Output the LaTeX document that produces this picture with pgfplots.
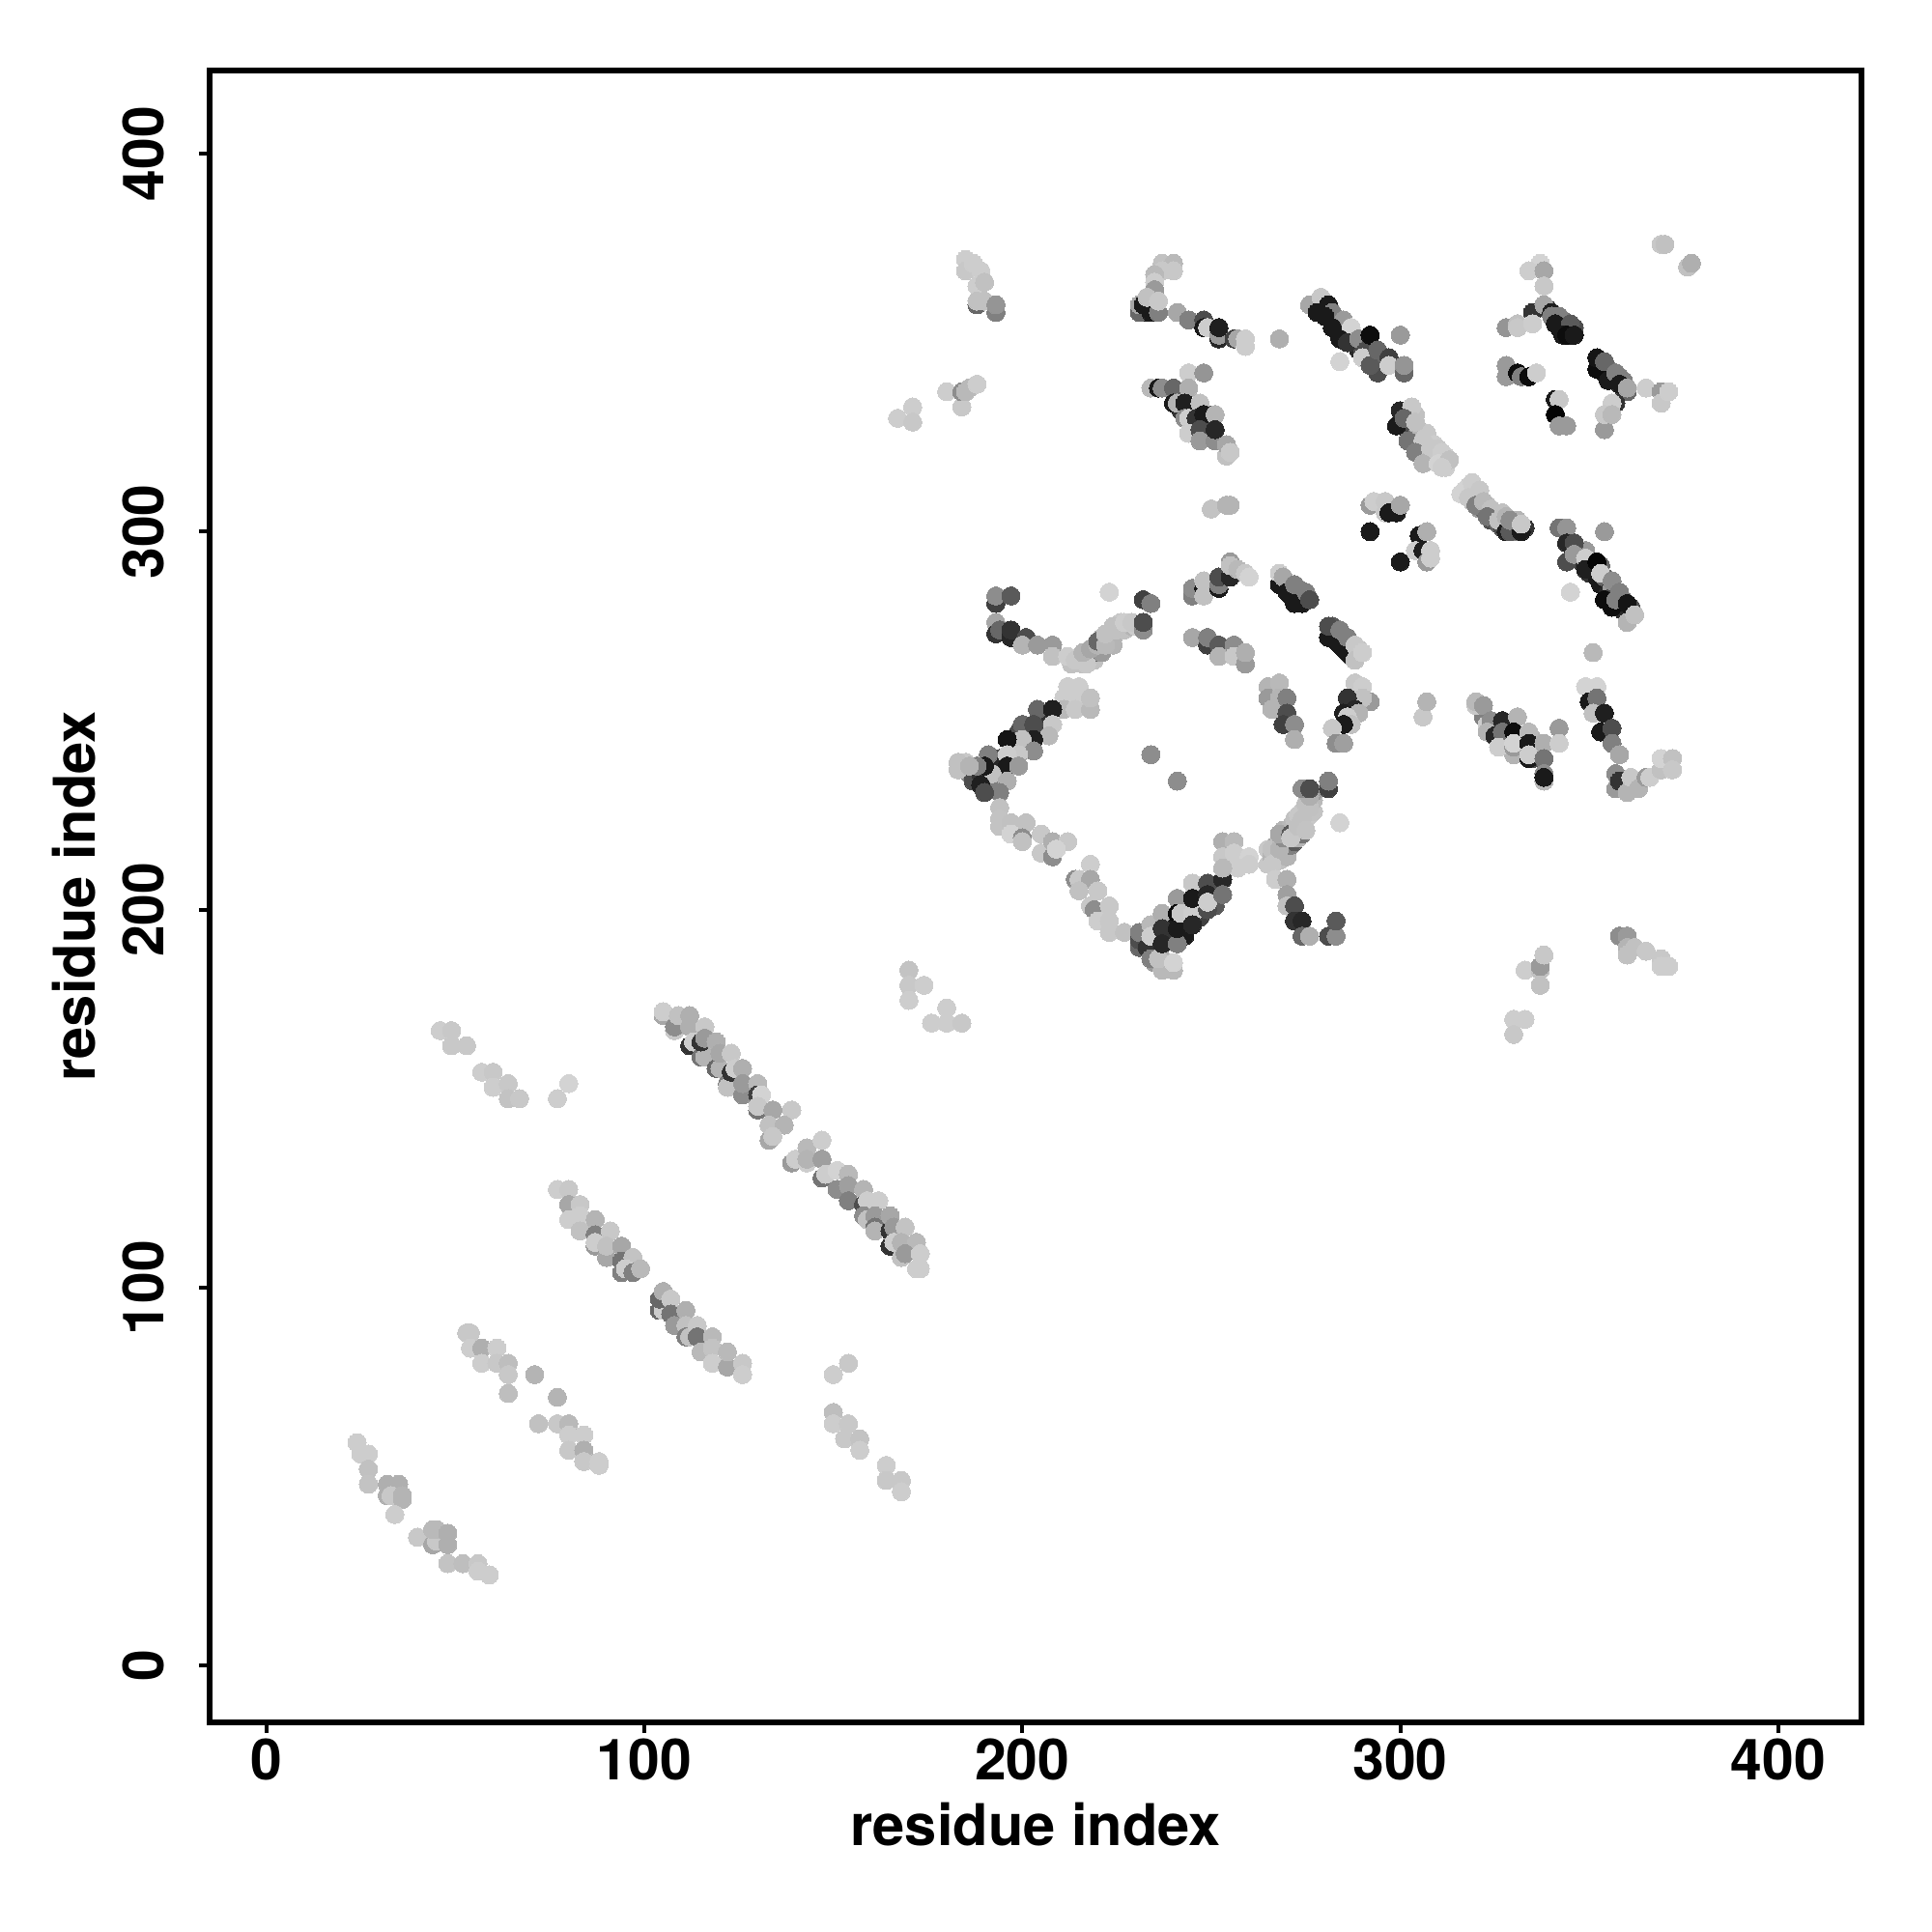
\documentclass[border=0pt]{standalone}
\usepackage{pgfplots}
\pgfplotsset{compat=1.18}
\usepackage{fontspec}
\setmainfont{TeX Gyre Heros}
\begin{document}
\begin{tikzpicture}[x=1pt,y=1pt]
\useasboundingbox (-54.25pt,-54.25pt) rectangle (445.75pt,445.75pt);
\begin{axis}[at={(0pt,0pt)},anchor=south west,scale only axis,width=427.5pt,height=427.5pt,
 xmin=-15,xmax=422,ymin=-15,ymax=422,axis line style={line width=1.5pt},
 xtick={0,100,200,300,400},ytick={0,100,200,300,400},
 tick align=outside,tick pos=lower,major tick length=2.8pt,tick style={line width=1pt,black},
 ticklabel style={font=\fontsize{14.7}{16}\selectfont\bfseries},
 /pgf/number format/assume math mode=true,
 y tick label style={rotate=90,anchor=south},
 yticklabel shift=5.4pt,xticklabel shift=-2.2pt,
 xlabel={residue index},ylabel={residue index},
 label style={font=\fontsize{14.9}{16}\selectfont\bfseries},
 xlabel style={at={(axis description cs:0.5,0)},anchor=center,yshift=-26.5pt},
 ylabel style={at={(axis description cs:0,0.5)},anchor=center,xshift=0pt,yshift=35.1pt},
 colormap={g}{gray(0cm)=(0); gray(1cm)=(1)},point meta min=0,point meta max=1,clip=false]
\addplot[scatter,only marks,mark=*,mark size=2.35pt,point meta=explicit,
 scatter/use mapped color={draw=mapped color,fill=mapped color},line width=0pt] coordinates {
(278,360)[.3](280,359)[.15](282,356)[.15](283,356)[.3](284,354)[.2](285,353)[.1](286,352)[.15](287,351)[.3](288,350)[.2](289,348)[.15](290,348)[.3](291,346)[.3](293,346)[.3](293,344)[.2](295,345)[.4](294,342)[.3]
(347,295)[.3](348,292)[.2](349,295)[.6](350,289)[.2](351,291)[.5](352,288)[.1](353,291)[.4](353,286)[.1](354,288)[.4](355,284)[.15](356,285)[.6](357,284)[.3](358,281)[.1](359,282)[.5](361,280)[.3](359,279)[.15]
(199,247)[.3](201,247)[.15](202,244)[.2](198,243)[.1](197,243)[.15](205,251)[.3](206,250)[.2](205,247)[.2](194,240)[.3](193,238)[.15](192,236)[.12](191,234)[.15](188,236)[.4](186,236)[.5](185,237)[.6](187,234)[.3](189,236)[.2](192,232)[.4](193,234)[.5]
(239,193)[.2](239,197)[.1](243,197)[.05](243,193)[.1](243,201)[.1](247,201)[.2](247,198)[.25](247,205)[.3](251,203)[.2](251,206)[.3](251,201)[.35](235,190)[.2](236,193)[.3](233,193)[.4](235,186)[.6](237,187)[.65](238,186)[.7](231,190)[.4]
(213,265)[.75](215,267)[.6](216,265)[.75](218,267)[.5](219,267)[.7](219,266)[.75](220,268)[.4](221,268)[.6](221,272)[.7](223,271)[.5](223,273)[.6](224,272)[.72](226,274)[.7](227,274)[.75](228,275)[.75](229,275)[.7](230,275)[.8](226,276)[.78](224,270)[.7]
(265,212)[.78](265,216)[.78](266,214)[.7](267,214)[.7](267,217)[.65](268,213)[.75](268,218)[.75](269,216)[.5](269,221)[.7](270,218)[.4](270,214)[.7](271,217)[.5](271,222)[.72](272,218)[.35](272,220)[.6](272,224)[.75](273,219)[.7](273,225)[.78](274,220)[.45](274,226)[.78](275,224)[.78](275,228)[.75](276,225)[.78](277,226)[.76](277,229)[.72](277,231)[.6]
(300,329)[.3](301,328)[.2](302,331)[.5](302,327)[.1](303,329)[.6](303,326)[.3](304,325)[.45](304,331)[.75](305,327)[.7](305,323)[.4](306,321)[.6](307,326)[.78](307,323)[.7](307,320)[.7](309,320)[.8](309,323)[.8](310,322)[.78](312,320)[.8](312,317)[.8]
(316,310)[.82](318,312)[.8](320,311)[.8](319,308)[.75](321,306)[.6](321,309)[.75](322,306)[.4](323,307)[.75](324,303)[.3](325,305)[.65](326,302)[.4](327,305)[.75](327,301)[.3](328,302)[.45](330,300)[.15](331,300)[.5](331,303)[.7](333,301)[.2]
(353,344)[.1](354,342)[.1](355,343)[.45](356,341)[.1](356,342)[.5](357,340)[.15](358,341)[.5](359,338)[.2](359,340)[.5](360,337)[.4]
(339,359)[.2](341,357)[.4](342,354)[.1](344,355)[.4](345,352)[.12](343,356)[.45](346,354)[.3]
(269,286)[.1](270,286)[.4](271,283)[.1](271,286)[.5](273,283)[.1](273,285)[.5](274,283)[.3](275,282)[.1]
(282,273)[.1](283,272)[.4](283,271)[.1](285,272)[.4](285,269)[.1](287,267)[.1](287,270)[.5](282,275)[.35](287,268)[.4](289,269)[.75]
(324,248)[.3](326,249)[.2](328,249)[.15](329,248)[.1](328,246)[.05](329,245)[.3](331,245)[.15](332,246)[.5](332,243)[.1](333,242)[.1](335,240)[.3](336,242)[.5](335,245)[.7](322,251)[.5](326,246)[.45](330,241)[.7]
(245,328)[.15](246,326)[.4](249,329)[.1](249,326)[.2](249,331)[.3](248,325)[.4](242,332)[.2](245,332)[.12]
(232,358)[.25](233,358)[.1](233,360)[.15](234,360)[.5](235,360)[.1]
(24,59)[.8](25,56)[.8](27,56)[.8](27,52)[.75](27,48)[.76](32,48)[.68](35,48)[.68](32,45)[.68](33,45)[.78](36,44)[.7](36,45)[.7](34,40)[.8]
(40,34)[.78](44,32)[.65](45,33)[.78](44,36)[.72](45,36)[.72](48,32)[.68](48,35)[.68](48,27)[.76](52,27)[.74](56,27)[.78](56,25)[.8](59,24)[.8]
(53,88)[.78](54,88)[.78](54,84)[.8](57,84)[.68](61,84)[.8](57,80)[.8](61,80)[.78](64,80)[.74](64,77)[.78](64,72)[.74](71,77)[.7](77,71)[.7](72,64)[.75](77,64)[.78](80,64)[.72](80,61)[.8](84,61)[.8](80,57)[.78](84,57)[.68](84,54)[.78](88,53)[.8](88,54)[.8]
(77,126)[.8](80,126)[.78](80,122)[.65](83,122)[.78](80,118)[.8](83,119)[.8](87,118)[.7](83,115)[.75](87,114)[.5](91,115)[.78](87,111)[.6](87,112)[.8](90,108)[.65](90,111)[.75](94,111)[.65](94,107)[.45](97,108)[.76](94,104)[.5](95,105)[.8](97,104)[.5](99,105)[.72]
(104,94)[.4](105,94)[.8](104,97)[.4](105,99)[.68](107,97)[.78](107,93)[.45](111,94)[.68](108,90)[.6](111,90)[.75](111,87)[.5](112,87)[.75](114,90)[.78](114,87)[.45](118,87)[.72](115,83)[.72](118,84)[.76](118,80)[.8](122,79)[.65](122,83)[.72](126,80)[.78](126,77)[.8]
(108,168)[.78](105,172)[.65](105,173)[.8](108,169)[.55](109,172)[.75](112,172)[.68](112,169)[.68](116,169)[.78](112,164)[.2](113,165)[.8](115,161)[.45](116,161)[.7](115,165)[.2](116,166)[.6](119,165)[.68](119,158)[.4](120,158)[.7](120,162)[.65](123,162)[.78](122,154)[.5](122,153)[.75](123,157)[.2](124,158)[.8](126,158)[.68](126,151)[.55](126,154)[.6](130,154)[.72](130,151)[.25](131,151)[.82](130,147)[.45](130,148)[.78](134,147)[.65](139,147)[.78](133,143)[.75](137,143)[.7](133,139)[.65](134,140)[.78]
(139,133)[.6](140,134)[.8](143,137)[.72](147,139)[.8](143,133)[.8](143,134)[.7](147,134)[.62](147,129)[.45](148,130)[.8](151,131)[.82](154,130)[.72](151,126)[.55](154,127)[.62](158,126)[.7](154,123)[.5](158,122)[.3](159,123)[.8](162,123)[.8](158,119)[.55](159,118)[.75](161,119)[.6](165,119)[.65](161,116)[.45](161,115)[.7](165,115)[.2](166,116)[.6](169,116)[.76](165,111)[.2](166,112)[.8](168,112)[.7](172,112)[.72](168,108)[.75](169,109)[.6](173,109)[.8](172,105)[.8](173,105)[.8]
(150,77)[.8](154,80)[.78](150,67)[.74](150,64)[.8](154,64)[.78](153,60)[.78](157,60)[.76](157,57)[.8](164,53)[.8](164,49)[.78](168,49)[.78](168,46)[.8]
(46,168)[.8](49,168)[.78](49,164)[.78](53,164)[.78](57,157)[.8](60,157)[.78](60,153)[.8](64,154)[.78](64,150)[.76](67,150)[.78](77,150)[.8](80,154)[.82]
(170,184)[.76](170,180)[.78](170,176)[.8](174,180)[.8](176,170)[.8](180,174)[.8](180,170)[.8](184,170)[.78]
(167,330)[.8](171,333)[.8](171,329)[.78]
(185,372)[.8](185,369)[.78](187,371)[.8](189,369)[.8](188,365)[.8](190,366)[.75](188,360)[.4](188,361)[.75](190,361)[.75](193,358)[.5](193,360)[.58]
(180,337)[.8](184,333)[.78](184,337)[.55](185,337)[.72](186,338)[.72](188,339)[.8]
(237,371)[.75](240,371)[.72](237,369)[.78](240,369)[.78](235,368)[.72](235,366)[.8](235,364)[.6](233,362)[.6](231,358)[.4](231,360)[.65](232,360)[.1](234,358)[.1](233,362)[.75](236,358)[.5](236,361)[.78]
(241,358)[.65](244,356)[.5](248,356)[.3](248,354)[.1](249,354)[.8](252,351)[.15](252,352)[.6](252,354)[.12](256,351)[.25](257,351)[.65](259,349)[.8](259,351)[.8](268,351)[.68]
(244,342)[.8](248,342)[.58](234,338)[.72](236,338)[.1](237,338)[.55](240,338)[.4](244,338)[.68](240,334)[.1](241,334)[.7](243,334)[.12](247,334)[.75](243,330)[.55](244,330)[.8](246,330)[.2](248,331)[.1](251,331)[.7](244,326)[.8](247,327)[.3](247,324)[.6](251,324)[.55](251,327)[.15](254,320)[.75](254,323)[.65](255,321)[.78]
(250,306)[.76](254,307)[.7](255,307)[.7]
(193,281)[.25](193,283)[.55](197,283)[.35](193,276)[.65](193,273)[.2](194,274)[.4](197,272)[.15](197,274)[.2](201,272)[.3](200,270)[.7](204,270)[.6](208,270)[.6](208,267)[.75]
(212,267)[.8](214,266)[.78](217,265)[.78](216,268)[.7](218,269)[.65](220,270)[.7](220,271)[.4](222,270)[.72](222,273)[.75](224,275)[.75](225,274)[.75](227,276)[.8](229,276)[.78](223,284)[.82](232,282)[.25](234,281)[.5](232,274)[.55](232,276)[.3]
(245,283)[.5](245,285)[.55](248,285)[.1](248,283)[.75](252,285)[.1](248,287)[.75](252,286)[.5](252,288)[.3](255,288)[.15](255,292)[.6](255,291)[.75](257,290)[.72](259,289)[.78](260,288)[.82]
(212,259)[.8](215,259)[.8](211,256)[.8](215,256)[.8](211,253)[.72](214,253)[.78](218,253)[.72](218,256)[.75]
(204,253)[.4](208,253)[.12](200,249)[.4](203,249)[.3](208,249)[.78](207,246)[.72](203,245)[.12](200,242)[.1](200,245)[.75](196,245)[.08](203,242)[.55](199,241)[.78](196,241)[.8](196,238)[.1](199,238)[.6](191,241)[.5](192,236)[.75](190,238)[.1](196,234)[.68](194,231)[.5](189,233)[.12](188,238)[.5](185,239)[.78](183,239)[.75](183,237)[.75](186,238)[.7](190,231)[.3](194,227)[.75]
(194,224)[.76](194,222)[.76](197,223)[.75](201,223)[.75](197,220)[.82](200,219)[.55](200,218)[.75](205,220)[.78](205,215)[.78](208,218)[.68](212,218)[.78](208,214)[.55](209,216)[.82]
(218,212)[.8](214,208)[.55](215,208)[.78](218,208)[.65](215,205)[.75](220,205)[.78](218,201)[.78](219,200)[.55](223,201)[.78](220,197)[.8](223,197)[.78](223,194)[.78](227,194)[.75]
(231,192)[.3](231,194)[.5](233,190)[.2](234,196)[.72](234,193)[.8](234,187)[.5](237,184)[.72](240,184)[.72](236,187)[.75](240,186)[.82]
(237,199)[.68](237,195)[.2](237,191)[.15](241,191)[.5](241,203)[.6](241,199)[.05](241,195)[.1](242,199)[.78](245,199)[.8](245,207)[.78](245,203)[.1](245,196)[.15](249,207)[.7](249,207)[.3](249,204)[.15](249,200)[.3](249,202)[.8](253,208)[.15](253,204)[.45]
(253,218)[.68](256,218)[.72](253,214)[.78](256,215)[.8](260,214)[.82](257,211)[.8](260,212)[.8](253,211)[.72]
(266,216)[.75](266,212)[.78](268,216)[.7](269,219)[.55](268,220)[.65](271,220)[.35](271,219)[.78](273,222)[.75](274,224)[.75](275,221)[.76](276,227)[.75](276,230)[.68](274,232)[.55](276,232)[.3](281,232)[.25](281,234)[.5](284,223)[.82]
(267,208)[.8](270,208)[.68](270,204)[.62](270,201)[.75](272,201)[.3](272,197)[.2](274,197)[.15](274,193)[.4](276,193)[.68](281,193)[.3](283,193)[.55](283,197)[.35](234,241)[.55](241,234)[.55]
(268,286)[.1](268,289)[.8](269,288)[.65](270,284)[.1](272,286)[.5](272,281)[.1](274,281)[.1](275,284)[.5](276,282)[.3]
(281,272)[.1](281,275)[.3](284,270)[.1](284,274)[.5](286,268)[.1](286,272)[.5](288,270)[.78](288,266)[.75](290,268)[.8]
(265,259)[.7](268,260)[.72](265,256)[.6](268,256)[.7](270,256)[.5](266,253)[.7](270,252)[.3](269,249)[.25](272,249)[.55](272,245)[.68]
(288,260)[.78](290,259)[.8](292,255)[.6](290,256)[.75](286,256)[.2](288,253)[.15](289,252)[.7](285,252)[.12](286,251)[.8](287,249)[.75](285,249)[.1](282,248)[.78](283,244)[.55](285,244)[.62]
(245,272)[.65](249,270)[.25](249,272)[.5](252,270)[.35](252,267)[.7](256,270)[.55](256,267)[.78](259,265)[.6](259,268)[.68]
(276,360)[.65](279,362)[.78](278,358)[.1](281,360)[.1](282,358)[.5](280,357)[.1](285,356)[.6](282,354)[.1](287,354)[.82](284,351)[.1](286,350)[.2](289,351)[.55](291,348)[.3](292,352)[.05](290,346)[.8](292,344)[.35](294,348)[.4](297,346)[.25](297,344)[.8](300,352)[.6](284,345)[.82](301,342)[.4](301,344)[.58]
(299,328)[.1](300,332)[.15](303,333)[.78](301,330)[.4](304,329)[.75](302,324)[.45](306,324)[.78](304,321)[.5](308,322)[.78](306,318)[.7](311,321)[.8](310,318)[.82](313,319)[.75](311,317)[.8]
(317,311)[.82](319,313)[.8](321,311)[.78](318,309)[.78](320,307)[.5](322,308)[.72](324,306)[.75](323,304)[.45](326,303)[.75](328,300)[.12](329,300)[.35](328,304)[.7](329,303)[.55](332,300)[.1](332,302)[.78]
(292,307)[.6](293,308)[.8](296,308)[.78](296,305)[.78](297,305)[.1](299,305)[.1](300,307)[.65](292,300)[.1]
(305,299)[.1](307,300)[.68](304,295)[.8](306,295)[.12](308,295)[.8](307,292)[.6](308,293)[.8](300,292)[.1]
(328,354)[.58](331,355)[.75](331,354)[.78](335,358)[.2](335,355)[.8](337,371)[.82](334,369)[.8](338,369)[.65](338,365)[.78](338,360)[.65](340,358)[.12](340,357)[.5](342,357)[.5](341,355)[.1](345,355)[.35](343,352)[.1](344,352)[.05](346,352)[.1]
(328,344)[.6](328,341)[.6](331,342)[.05](332,341)[.5](334,341)[.05](336,342)[.8](341,335)[.1](342,335)[.78](341,331)[.02](342,328)[.6](344,328)[.6]
(352,343)[.05](352,346)[.08](354,345)[.4](355,340)[.1](357,342)[.5](358,339)[.1](360,338)[.65](365,338)[.8](369,337)[.6](369,334)[.78](371,337)[.8](357,334)[.2](356,334)[.8](354,327)[.6](354,331)[.78](356,331)[.72]
(369,376)[.78](370,376)[.75](376,370)[.75](377,371)[.68]
(342,301)[.45](344,301)[.58](354,300)[.6](344,297)[.15](346,297)[.3](344,292)[.3](346,294)[.6](349,293)[.8](349,290)[.12](352,292)[.02](353,289)[.8](354,282)[.05](356,280)[.05](356,287)[.55](358,284)[.5](357,282)[.5](345,284)[.82](360,281)[.08](360,276)[.7](362,278)[.75](351,268)[.72]
(349,259)[.82](352,259)[.82](350,255)[.1](352,256)[.45](351,252)[.75](354,252)[.12](353,247)[.1](356,248)[.3](356,244)[.5](358,241)[.65]
(357,232)[.6](357,236)[.55](358,234)[.2](360,231)[.7](361,235)[.78](363,232)[.7](365,235)[.6](366,235)[.8](369,237)[.75](369,240)[.82](372,240)[.75](372,237)[.78]
(320,254)[.78](320,255)[.72](322,254)[.6](323,249)[.8](324,250)[.55](327,250)[.15](331,251)[.7](323,247)[.7](325,246)[.15](327,247)[.45](330,247)[.05](334,247)[.72](326,243)[.8](330,243)[.6](330,244)[.82](334,244)[.1](338,244)[.68](342,248)[.6](342,244)[.8](334,240)[.1](334,241)[.8](338,240)[.45](338,236)[.55](338,234)[.72](338,235)[.1]
(333,184)[.8](337,180)[.75](337,184)[.75](337,185)[.6](338,188)[.78](358,193)[.55](360,193)[.6](360,190)[.7](360,188)[.75](362,190)[.75](365,189)[.78](369,187)[.78](369,185)[.8](371,185)[.8]
(330,171)[.8](330,167)[.78](333,171)[.8](306,251)[.78](307,255)[.7]
};
\end{axis}
\end{tikzpicture}
\end{document}
